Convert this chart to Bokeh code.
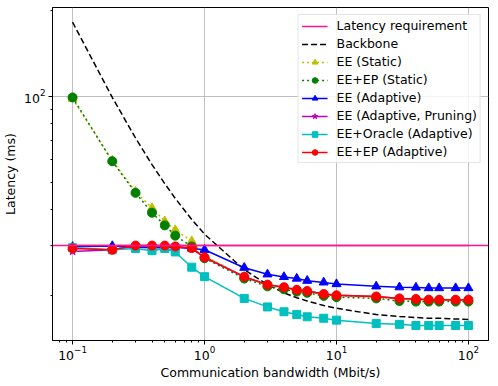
from bokeh.plotting import figure
from bokeh.models import Range1d, Span, Legend, LegendItem, FixedTicker, LogTickFormatter
from bokeh.embed import file_html
from bokeh.resources import INLINE

# ---- data ----
bandwidth = [0.1, 0.2, 0.3, 0.4, 0.5, 0.6, 0.8, 1, 2, 3, 4, 5, 6, 8, 10, 20, 30, 40, 50, 60, 80, 100]
latency_requirement = 30.0
backbone = [181.6, 99.0, 71.4, 57.6, 49.4, 43.9, 37.0, 32.9, 24.7, 21.9, 20.5, 19.7, 19.2, 18.5, 18.1,
            17.2, 16.95, 16.8, 16.7, 16.7, 16.6, 16.55]
ee_static = [98.0, 59.5, 46.3, 40.6, 36.5, 34.0, 31.1, 27.6, 23.3, 21.8, 21.3, 20.9, 20.7, 20.2, 20.0,
             19.8, 19.5, 19.4, 19.3, 19.3, 19.3, 19.3]
ee_ep_static = [99.0, 59.2, 45.9, 39.1, 35.3, 32.5, 29.8, 27.1, 23.0, 21.6, 21.1, 20.7, 20.5, 20.0, 19.8,
                19.6, 19.2, 19.1, 19.1, 19.1, 19.1, 19.1]
ee_adaptive = [29.7, 29.9, 29.6, 29.5, 29.5, 29.6, 29.3, 29.0, 25.1, 23.8, 23.3, 23.0, 22.6, 22.3, 22.0,
               21.6, 21.45, 21.4, 21.3, 21.3, 21.3, 21.3]
ee_pruning = [28.6, 29.0, 29.9, 29.9, 29.9, 29.7, 29.3, 27.3, 23.3, 21.9, 21.45, 21.0, 20.8, 20.3, 20.1,
              19.9, 19.6, 19.5, 19.4, 19.4, 19.4, 19.4]
ee_oracle = [29.5, 29.0, 29.3, 28.8, 29.3, 28.5, 25.2, 23.35, 19.6, 18.3, 17.6, 17.2, 16.9, 16.7, 16.45,
             16.0, 15.9, 15.75, 15.75, 15.75, 15.75, 15.75]
ee_ep_adaptive = [29.3, 29.0, 30.0, 30.0, 30.0, 29.8, 29.4, 27.3, 23.35, 21.9, 21.45, 21.0, 20.8, 20.3, 20.1,
                  19.9, 19.6, 19.5, 19.4, 19.4, 19.4, 19.4]
y_major_ticks = [100]
y_minor_ticks = [20, 30, 40, 50, 60, 70, 80, 90, 200]

FONT = "DejaVu Sans"
FS = "12.5px"

p = figure(frame_width=436, frame_height=333, x_axis_type="log", y_axis_type="log",
           x_range=Range1d(10 ** -1.152, 10 ** 2.152), y_range=Range1d(13.96, 204.4),
           output_backend="svg", toolbar_location=None,
           min_border_left=48, min_border_right=1, min_border_top=7, min_border_bottom=0)

p.outline_line_color = "black"
p.outline_line_width = 1
p.outline_line_alpha = 1
p.background_fill_color = "white"
p.border_fill_color = "white"

p.yaxis.ticker = FixedTicker(ticks=y_major_ticks, minor_ticks=y_minor_ticks)
p.yaxis.formatter = LogTickFormatter()
p.ygrid.ticker = FixedTicker(ticks=y_major_ticks)

for ax in (p.xaxis, p.yaxis):
    ax.axis_line_color = "black"
    ax.major_tick_line_color = "black"
    ax.minor_tick_line_color = "black"
    ax.major_tick_out = 4
    ax.major_tick_in = 0
    ax.minor_tick_out = 2
    ax.minor_tick_in = 0
    ax.major_label_text_font = FONT
    ax.major_label_text_font_size = FS
    ax.major_label_text_color = "black"
    ax.axis_label_text_font = FONT
    ax.axis_label_text_font_size = FS
    ax.axis_label_text_font_style = "normal"
    ax.axis_label_text_color = "black"

p.xaxis.axis_label = "Communication bandwidth (Mbit/s)"
p.yaxis.axis_label = "Latency (ms)"
p.xaxis.axis_label_standoff = 2
p.yaxis.axis_label_standoff = 3
p.xaxis.major_label_standoff = 1
p.yaxis.major_label_standoff = 3

p.grid.grid_line_color = "#b0b0b0"
p.grid.grid_line_width = 0.8

# latency requirement: full-width line + renderer for the legend
req_span = Span(location=latency_requirement, dimension="width", line_color="#ff1493", line_width=1.5)
p.add_layout(req_span)
req_r = p.line(bandwidth, [latency_requirement] * len(bandwidth), line_color="#ff1493", line_width=1.5)

bb_r = p.line(bandwidth, backbone, line_color="black", line_width=1.5, line_dash="6 3")

ys_l = p.line(bandwidth, ee_static, line_color="#bfbf00", line_width=1.5, line_dash="2 3")
ys_m = p.scatter(bandwidth, ee_static, marker="triangle", size=9, fill_color="#bfbf00", line_color="#bfbf00")

gs_l = p.line(bandwidth, ee_ep_static, line_color="green", line_width=1.5, line_dash="2 3")
gs_m = p.scatter(bandwidth, ee_ep_static, marker="circle", size=9, fill_color="green", line_color="green")

ba_l = p.line(bandwidth, ee_adaptive, line_color="blue", line_width=1.5)
ba_m = p.scatter(bandwidth, ee_adaptive, marker="triangle", size=9, fill_color="blue", line_color="blue")

mp_l = p.line(bandwidth, ee_pruning, line_color="#bf00bf", line_width=1.5)
mp_m = p.scatter(bandwidth, ee_pruning, marker="star", size=8, fill_color="#bf00bf", line_color="#bf00bf")

co_l = p.line(bandwidth, ee_oracle, line_color="#00bfbf", line_width=1.5)
co_m = p.scatter(bandwidth, ee_oracle, marker="square", size=8, fill_color="#00bfbf", line_color="#00bfbf")

ra_l = p.line(bandwidth, ee_ep_adaptive, line_color="red", line_width=1.5)
ra_m = p.scatter(bandwidth, ee_ep_adaptive, marker="circle", size=9, fill_color="red", line_color="red")

legend = Legend(items=[
    LegendItem(label="Latency requirement", renderers=[req_r]),
    LegendItem(label="Backbone", renderers=[bb_r]),
    LegendItem(label="EE (Static)", renderers=[ys_l, ys_m]),
    LegendItem(label="EE+EP (Static)", renderers=[gs_l, gs_m]),
    LegendItem(label="EE (Adaptive)", renderers=[ba_l, ba_m]),
    LegendItem(label="EE (Adaptive, Pruning)", renderers=[mp_l, mp_m]),
    LegendItem(label="EE+Oracle (Adaptive)", renderers=[co_l, co_m]),
    LegendItem(label="EE+EP (Adaptive)", renderers=[ra_l, ra_m]),
], location="top_right")
legend.label_text_font = FONT
legend.label_text_font_size = FS
legend.label_text_color = "black"
legend.label_height = 14
legend.glyph_height = 14
legend.glyph_width = 26
legend.spacing = 3
legend.padding = 3
legend.margin = 7
legend.label_standoff = 9
legend.border_line_color = "#cccccc"
legend.border_line_width = 1
legend.background_fill_alpha = 0.8
p.add_layout(legend)

open("out.html", "w").write(file_html(p, INLINE))
